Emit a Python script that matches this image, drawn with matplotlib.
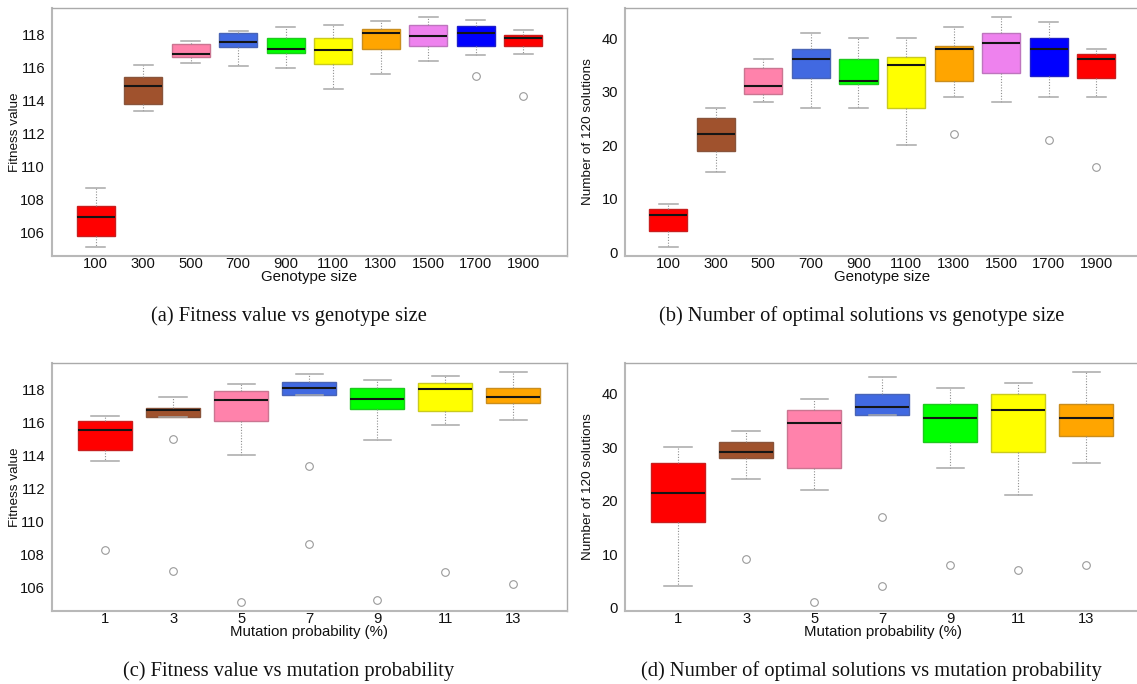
import numpy as np
import matplotlib
matplotlib.use('Agg')
import matplotlib.pyplot as plt
from matplotlib.colors import to_rgb

plt.rcParams['font.family'] = 'Liberation Sans'

# categories
genotypeSizes = ['100', '300', '500', '700', '900', '1100', '1300', '1500', '1700', '1900']
mutationProbs = ['1', '3', '5', '7', '9', '11', '13']

colorsGeno = ['red', 'sienna', '#FF82AB', 'royalblue', 'lime', 'yellow',
              'orange', 'violet', 'blue', 'red']
colorsMut = ['red', 'sienna', '#FF82AB', 'royalblue', 'lime', 'yellow', 'orange']

# (a) fitness value vs genotype size
fitGeno_lo  = [105.15, 113.38, 116.25, 116.08, 115.94, 114.67, 115.62, 116.37, 116.73, 116.79]
fitGeno_q1  = [105.78, 113.80, 116.61, 117.25, 116.89, 116.19, 117.09, 117.29, 117.29, 117.27]
fitGeno_med = [106.93, 114.89, 116.79, 117.52, 117.11, 117.07, 118.08, 117.90, 118.06, 117.76]
fitGeno_q3  = [107.63, 115.40, 117.43, 118.10, 117.76, 117.80, 118.30, 118.54, 118.48, 117.98]
fitGeno_hi  = [108.68, 116.12, 117.61, 118.22, 118.42, 118.54, 118.79, 119.03, 118.88, 118.24]
fitGeno_out = [[], [], [], [], [], [], [], [], [115.46], [114.29]]

# (b) number of optimal solutions vs genotype size
optGeno_lo  = [1, 15, 28, 27, 27, 20, 29, 28, 29, 29]
optGeno_q1  = [4, 19, 29.5, 32.5, 31.5, 27, 32, 33.5, 33, 32.5]
optGeno_med = [7, 22, 31, 36, 32, 35, 38, 39, 38, 36]
optGeno_q3  = [8, 25, 34.4, 38, 36, 36.4, 38.5, 41, 40, 37]
optGeno_hi  = [9, 27, 36, 41, 40, 40, 42, 44, 43, 38]
optGeno_out = [[], [], [], [], [], [], [22], [], [21], [16]]

# (c) fitness value vs mutation probability
fitMut_lo  = [113.65, 116.31, 114.01, 117.64, 114.92, 115.82, 116.13]
fitMut_q1  = [114.31, 116.31, 116.06, 117.64, 116.77, 116.65, 117.13]
fitMut_med = [115.54, 116.73, 117.33, 118.08, 117.42, 118.00, 117.52]
fitMut_q3  = [116.06, 116.85, 117.88, 118.42, 118.06, 118.36, 118.06]
fitMut_hi  = [116.37, 117.52, 118.30, 118.91, 118.54, 118.79, 119.03]
fitMut_out = [[108.26], [114.98, 107.03], [105.16], [113.38, 108.67],
              [105.30], [106.95], [106.21]]

# (d) number of optimal solutions vs mutation probability
optMut_lo  = [4, 24, 22, 36, 26, 21, 27]
optMut_q1  = [16, 28, 26, 36, 31, 29, 32]
optMut_med = [21.5, 29, 34.5, 37.5, 35.5, 37, 35.5]
optMut_q3  = [27, 31, 37, 40, 38, 40, 38]
optMut_hi  = [30, 33, 39, 43, 41, 42, 44]
optMut_out = [[], [9], [1], [17, 4], [8], [7], [8]]

W, H = 1137.0, 684.0


#===============================================================================
def make_stats(lo, q1, med, q3, hi, out):
    return [dict(whislo=a, q1=b, med=c, q3=d, whishi=e, fliers=f)
            for a, b, c, d, e, f in zip(lo, q1, med, q3, hi, out)]


def edge_of(c):
    r = np.array(to_rgb(c))
    return tuple(r * 0.68 + 0.32 * 0.35)


#===============================================================================
def draw_panel(rect, stats, colors, labels, xlabel, ylabel, xlim, ylim, yticks):
    l, t, r, b = rect
    ax = fig.add_axes([l / W, 1 - b / H, (r - l) / W, (b - t) / H])
    n = len(stats)
    bp = ax.bxp(stats, positions=np.arange(1, n + 1), widths=0.8, capwidths=0.4,
                patch_artist=True, showfliers=True,
                boxprops=dict(linewidth=1.0),
                whiskerprops=dict(linestyle=(0, (1, 1.5)), color='#8f8f8f', linewidth=0.8),
                capprops=dict(color='#a8a8a8', linewidth=1.1),
                medianprops=dict(color='#151515', linewidth=1.5),
                flierprops=dict(marker='o', markerfacecolor='none',
                                markeredgecolor='#9a9a9a', markersize=5.5,
                                markeredgewidth=0.8))
    for patch, c in zip(bp['boxes'], colors):
        patch.set_facecolor(c)
        patch.set_edgecolor(edge_of(c))

    ax.set_xlim(*xlim)
    ax.set_ylim(*ylim)
    ax.set_yticks(yticks)
    ax.set_xticks(np.arange(1, n + 1))
    ax.set_xticklabels(labels)
    ax.tick_params(axis='both', length=0, labelsize=10.6, colors='#111111')
    ax.tick_params(axis='x', pad=0.5)
    ax.tick_params(axis='y', pad=5)

    for side in ['top', 'right']:
        ax.spines[side].set_color('#aaaaaa')
        ax.spines[side].set_linewidth(1.0)
    for side in ['left', 'bottom']:
        ax.spines[side].set_color('#b8b8b8')
        ax.spines[side].set_linewidth(1.5)

    ax.set_xlabel(xlabel, fontsize=10.8, va='center', color='#111111')
    ax.xaxis.set_label_coords(0.5, -21.0 / (b - t))
    ax.set_ylabel(ylabel, fontsize=9.7, va='center', color='#111111')
    ax.yaxis.set_label_coords(-37.0 / (r - l), 0.5)
    return ax


#===============================================================================
fig = plt.figure(figsize=(11.37, 6.84), dpi=100)

draw_panel((52, 8, 567, 256),
           make_stats(fitGeno_lo, fitGeno_q1, fitGeno_med, fitGeno_q3, fitGeno_hi, fitGeno_out),
           colorsGeno, genotypeSizes, 'Genotype size', 'Fitness value',
           (0.08, 10.92), (104.59, 119.59), np.arange(106, 119, 2))

draw_panel((625, 8, 1140, 256),
           make_stats(optGeno_lo, optGeno_q1, optGeno_med, optGeno_q3, optGeno_hi, optGeno_out),
           colorsGeno, genotypeSizes, 'Genotype size', 'Number of 120 solutions',
           (0.09, 10.92), (-0.69, 45.6), np.arange(0, 41, 10))

draw_panel((52, 363, 567, 611),
           make_stats(fitMut_lo, fitMut_q1, fitMut_med, fitMut_q3, fitMut_hi, fitMut_out),
           colorsMut, mutationProbs, 'Mutation probability (%)', 'Fitness value',
           (0.22, 7.79), (104.61, 119.57), np.arange(106, 119, 2))

draw_panel((625, 363, 1140, 611),
           make_stats(optMut_lo, optMut_q1, optMut_med, optMut_q3, optMut_hi, optMut_out),
           colorsMut, mutationProbs, 'Mutation probability (%)', 'Number of 120 solutions',
           (0.22, 7.79), (-0.64, 45.7), np.arange(0, 41, 10))

captions = ['(a) Fitness value vs genotype size',
            '(b) Number of optimal solutions vs genotype size',
            '(c) Fitness value vs mutation probability',
            '(d) Number of optimal solutions vs mutation probability']
capPos = [(289, 321), (862, 321), (289, 676), (871, 676)]
for txt, (cx, cy) in zip(captions, capPos):
    fig.text(cx / W, 1 - cy / H, txt, family='Liberation Serif', fontsize=14.8,
             ha='center', va='baseline', color='#111111')

fig.savefig('out.png', dpi=100)
